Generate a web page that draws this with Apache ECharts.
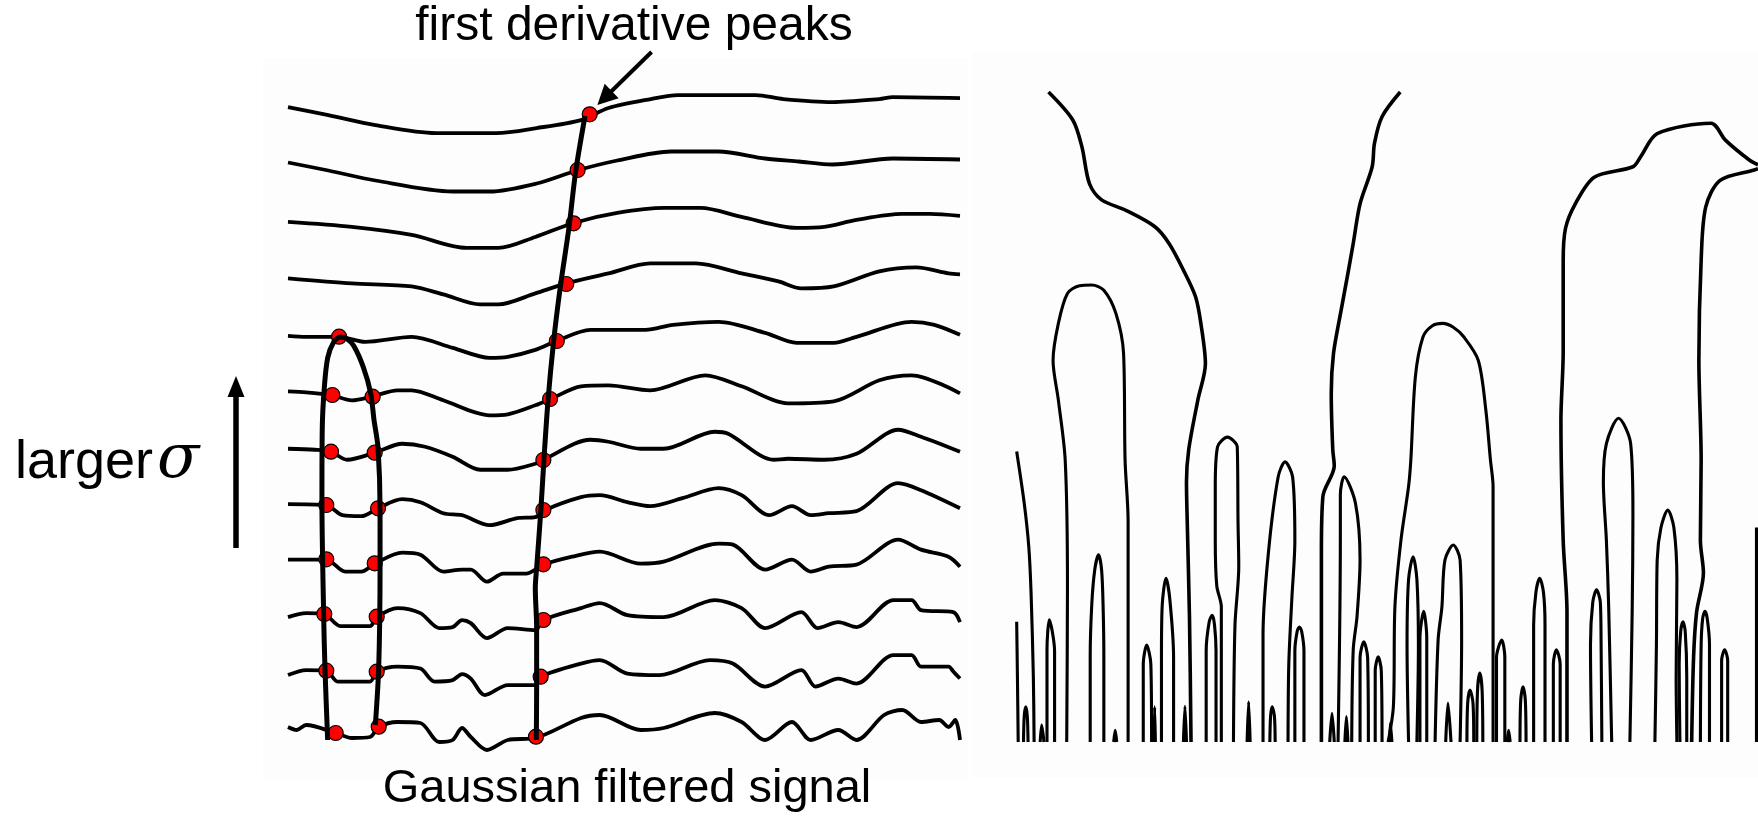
<!DOCTYPE html>
<html>
<head>
<meta charset="utf-8">
<title>scale space</title>
<script src="https://cdn.jsdelivr.net/npm/echarts/dist/echarts.min.js"></script>
<style>
  html, body { margin: 0; padding: 0; background: #fff; }
  #main { width: 1758px; height: 824px; }
</style>
</head>
<body>
<div id="main"></div>
<script>
// left panel: the same signal filtered with growing sigma (bottom = smallest)
// each point is [position 0-100, amplitude offset from its own baseline]
var rowGap = 56.45;
var sig0 = [[0,1],[1.3,-2],[2.7,3],[7.1,-5],[9.5,-10],[12.2,-9],[13.5,1],[16.3,6],[19.7,5],[22.5,-14],[24.5,-12],[25.9,0],[27.2,-9],[29.6,-22],[32.7,-12],[36.8,-10],[43.6,10],[46.4,13],[52.5,-2],[55.9,0],[63.5,15],[67.5,6],[71,-12],[75,6],[77.8,-12],[81.9,-2],[84.6,-12],[88.7,13],[91.4,18],[94.2,6],[96.9,8],[98.3,1],[99.3,8],[100,-12]];
var sig1 = [[0,-3.5],[2.7,1.5],[5.7,1],[7.4,-10],[12.2,-10],[13.2,0],[16.3,5],[19.7,3],[21.8,-10],[24.5,-8.5],[25.9,-2.5],[27.2,-7],[29.3,-23.5],[32.7,-13.5],[36.8,-13.5],[37.6,-5],[43.6,8],[46.4,11.5],[50.5,-2],[55.3,-3.5],[62.8,11.5],[66.2,8],[71,-15],[76.4,1.5],[78.5,-15],[81.9,-7],[84.6,-12],[90.1,16.5],[92.8,16.5],[94.2,5],[98.3,5],[99,0],[100,-7]];
var sig2 = [[0,-2],[2.7,2],[5.4,1],[7.8,-11],[12.2,-11],[13.2,-2],[16.3,7],[19.7,2],[22.5,-13],[24.5,-12],[25.9,-5],[27.2,-8],[29.6,-23],[32.7,-13],[36.8,-15],[38,-5],[43.6,7],[46.4,12],[50.5,0],[55.9,-2],[63.5,15],[67.5,7],[71,-13],[76.4,3],[78.8,-13],[81.9,-7],[84.6,-12],[90.1,15],[92.8,15],[94.2,5],[99,3],[100,-7]];
var sig3 = [[0,-1],[5.7,-1],[8.5,-13],[10.9,-13],[12.9,-5],[17,6],[19.7,4],[23.1,-13],[25.9,-11],[27.2,-11],[29.6,-23],[32,-15],[35.4,-15],[38,-6],[42.3,2],[46.4,7],[52.5,-5],[55.9,-3],[64.1,15],[66.2,14],[71,-11],[75,-1],[77.8,-13],[80.5,-8],[84.6,-6],[90.8,19],[94.2,9],[98.3,2],[100,-8]];
var sig4 = [[0,-2],[5.7,-3],[8.1,-13],[10.9,-14],[13.4,-6],[17,3],[19.7,0],[23.1,-11],[25.9,-13],[30,-23],[34.1,-16],[36.8,-15],[38.2,-8],[43.6,5],[46.4,7],[50.5,0],[53.9,-4],[58.7,4],[64.1,14],[67.5,7],[71.6,-13],[75,-4],[77.8,-13],[80.5,-11],[84.6,-9],[90.8,19],[94.2,12],[100,-6]];
var sig5 = [[0,-3],[4,-4],[6.4,-6],[8.8,-14],[12.9,-7],[17,2],[20.4,-1],[24.5,-11],[28.6,-24],[32.7,-24],[36.8,-18],[38,-14],[45,6],[47.7,4],[52.5,-3],[55.9,-3],[63.5,14],[65.5,12],[72.3,-14],[74.4,-13],[79.8,-14],[84.6,-8],[90.8,16],[94.2,9],[100,-6]];
var sig6 = [[0,-2],[2.7,-3],[6.5,-6],[9.5,-11],[12.6,-7],[16.3,-1],[18.4,-1],[23.1,-11],[30,-26],[32.7,-25],[36.8,-16],[39,-10],[43.6,3],[47.7,4],[53.9,-1],[62.1,14],[67.5,3],[74.4,-14],[81.2,-12],[88,9],[92.8,14],[100,-4]];
var sig7 = [[0,-3],[2.7,-4],[7.6,-4],[11.5,-9],[18.4,-4],[24.5,-15],[30,-25],[32.7,-24],[36.8,-17],[40,-8],[45,3],[53.2,3],[57.3,8],[64.1,11],[71,0],[75.7,-10],[81.2,-10],[84.6,-4],[92.8,11],[96.2,8],[100,-2]];
var sig8 = [[0,-2],[9.5,-7],[18.4,-10],[23.1,-18],[28.6,-28],[31.3,-28],[36.8,-17],[41.4,-7],[47.7,3],[53.9,13],[60.7,13],[67.5,3],[73,-5],[76.4,-12],[81.2,-10],[88,5],[93.5,9],[98.3,3],[100,2]];
var sig9 = [[0,-2],[9.5,-7],[18.4,-15],[26.6,-28],[31.3,-28],[36.8,-17],[42.5,-3],[49,7],[56,12],[61.4,12],[67.5,3],[75.7,-8],[79.8,-7],[84.6,0],[91.4,6],[95.5,6],[100,4]];
var sig10 = [[0,1],[6,-7],[13,-17],[24.5,-28],[30,-28],[37,-20],[43,-7],[49,3],[57,12],[64,12],[71,5],[76,2],[81,-1],[90,5],[100,4]];
var sig11 = [[0,0],[6,-8],[13,-18],[22,-26],[31,-26],[37,-21],[43.6,-13],[47.7,-1],[54,8],[58,12],[69.6,12],[73.7,8],[81,5],[88,8],[90,10],[100,9]];
var signalRows = [sig0, sig1, sig2, sig3, sig4, sig5, sig6, sig7, sig8, sig9, sig10, sig11];

// first derivative peaks, [position, amplitude]
var peaksLeft = [[7.1,-5],[5.7,57.3],[5.4,114],[5.7,168.7],[5.7,223],[6.4,276.3],[6.6,333],[7.6,391.3]];
var peaksMid = [[13.5,1.3],[13.2,56.3],[13.2,111.3],[12.9,164.7],[13.4,219.7],[12.9,275.3],[12.6,331.3]];
var peaksRight = [[36.9,-8.7],[37.6,51.3],[38,108],[38,163.7],[38,218],[38,268],[39,329],[40,387],[41.4,444],[42.5,504.7],[43.1,558],[44.9,613.7]];

// tracked peak paths
var trackLoop = [[5.9,-12],[5.5,60],[5.3,115],[5.05,228],[5.1,300],[5.4,340],[5.9,370],[6.8,386],[7.8,391],[8.8,389],[9.8,382],[11.2,361],[12.3,335],[12.8,308],[13.4,280],[13.7,218],[13.7,161],[13.5,61],[13.0,3]];
var trackMain = [[36.95,-12],[37,40],[37,100],[36.8,140],[37,160],[37.6,215],[38.1,270],[38.7,328],[39.5,385],[40.5,440],[41.8,500],[42.8,556],[44.2,612]];

// right panel: scale-space fingerprint, [position 0-100, scale 0-100]
var topBranches = [
  [[6.4,100],[9.6,95.7],[10.8,91.6],[11.8,85.9],[13.4,83.4],[16.6,81.8],[20.4,79.3],[22.3,76.7],[24.2,72.6],[25.8,68.5],[26.5,64.4],[27.1,58.2],[26.1,52.6],[24.9,45],[24.6,40],[24.7,34],[25,19],[25.2,0]],
  [[52.8,100],[50.4,96.2],[49.4,92.1],[49.1,88.5],[47.5,82.8],[46.6,76.7],[45.9,72.1],[45,66.4],[44,59.8],[43.7,53.6],[43.9,45],[44.1,42.5],[42.6,37.8],[42.4,29],[42.4,0]],
  [[74.8,0],[74.8,20],[74.3,31],[74,49.5],[74.3,60],[74.3,74],[74.6,79],[75.9,82.8],[78.4,86.9],[83.5,88.5],[84.5,90],[86.7,93.6],[93.8,95.2],[95.7,92.6],[98.9,89.5],[100,88.8]],
  [[91.25,0],[91.5,13],[91.9,20],[92.8,26],[92.4,31],[92.5,43.4],[92.2,58.8],[92.5,74.1],[93.1,82.3],[95,86.4],[99.5,88],[100,88.2]]
];
var stubs = [
  [[2.2,44.7],[3.2,36.7],[3.8,30],[4.1,22.9],[4.4,10],[4.5,0]],
  [[2.2,18.5],[2.3,10],[2.4,0]],
  [[99.8,33],[99.8,0]]
];
var tallArches = [
  [[8.8,0],[8.9,24],[8.6,43.4],[7.7,52.6],[7,58.7],[7.7,64.4],[8.9,69],[10.5,70.2],[12.1,70.3],[13.7,69.5],[15.3,65.9],[16.3,59.8],[16.5,43.4],[16.9,34],[16.9,0]],
  [[51.2,0],[51.9,5.5],[52.1,20.8],[52.9,31.1],[53.9,39.3],[54.2,43.4],[54.8,56.2],[55.8,62.3],[57,64],[58.4,64.4],[59.8,63.8],[61.2,62.3],[63.1,58.7],[64.1,51],[64.7,43.4],[65.05,39.3],[65.05,0]],
  [[29.2,0],[29.2,20.8],[28.6,24],[28.4,31],[28.4,39.3],[28.7,45.4],[30,46.9],[31.3,45.4],[31.4,34],[31.5,27],[31,18],[30.8,0]],
  [[34.7,0],[34.7,16.5],[35.4,29],[36.7,40.8],[37.6,43.1],[38.6,40.8],[38.9,31],[38.5,22],[38.1,12],[38,0]],
  [[80.7,0],[80.3,20.8],[80,31],[79.6,40],[80,45.9],[81.6,49.8],[83.2,45.9],[83.5,35],[83.4,20],[83.1,0]],
  [[86.4,0],[86.6,15],[86.7,28],[87.2,33],[88.1,35.7],[88.9,33],[89.3,25],[89.2,10],[89.3,0]],
  [[44.6,0],[44.9,31],[44.9,38],[45.4,40.8],[46.9,36.7],[47.5,28],[47.1,19.3],[46.6,14.2],[46.4,0]]
];
var midArches = [
  [[11.9,0],[11.9,13],[12.1,21],[12.5,26.5],[13,28.8],[13.4,26.5],[13.6,21],[13.7,13],[13.7,0]],
  [[21.3,0],[21.3,13],[21.4,21],[21.9,25.2],[22.4,22],[22.9,13],[22.9,0]],
  [[6.2,0],[6.2,14],[6.3,17],[6.5,18.8],[6.9,17],[7.2,14],[7.2,0]],
  [[18.9,0],[18.9,12],[19.35,14.9],[19.9,12],[20,0]],
  [[27.2,0],[27.2,14],[27.6,18.5],[28,19.5],[28.3,18],[28.5,14],[28.5,0]],
  [[38.9,0],[38.9,14],[39.2,17],[39.5,17.7],[39.8,17],[40.1,14],[40.1,0]],
  [[47.5,0],[47.5,13],[48,15.4],[48.5,13],[48.6,0]],
  [[49.5,0],[49.5,11],[49.9,13.1],[50.3,11],[50.4,0]],
  [[53.9,0],[53.7,15],[53.9,25],[54.5,28.5],[55,25],[55.2,15],[55,0]],
  [[55.4,0],[55.4,16],[55.9,20.1],[56.3,16],[56.3,0]],
  [[57.4,0],[57.8,15.7],[58.3,20.8],[58.7,28],[59.8,30.3],[60.7,28],[60.9,15.7],[60.7,0]],
  [[65.5,0],[65.5,13],[66.2,15.7],[66.6,13],[66.6,0]],
  [[70.4,0],[70.4,18],[70.7,23],[71.2,25.2],[71.7,23],[71.9,18],[71.9,0]],
  [[73,0],[73,12],[73.4,14.2],[73.9,12],[73.9,0]],
  [[78.05,0],[77.9,15],[78.2,21.5],[78.7,23.4],[79.2,21.5],[79.3,15],[79.4,0]],
  [[89.7,0],[89.6,12],[89.8,17],[90.1,18.5],[90.4,17],[90.6,10],[90.6,0]],
  [[92.4,0],[92.5,15],[92.7,19],[93,20.1],[93.3,19],[93.6,15],[93.6,0]],
  [[95.2,0],[95.2,12.5],[95.6,14.2],[96,12.5],[96,0]]
];
var smallArches = [
  [[3.1,0],[3.2,4],[3.4,5.4],[3.6,4],[3.7,0]],
  [[5.3,0],[5.5,2.6],[5.8,0]],
  [[15,0],[15.2,1.8],[15.4,0]],
  [[20.3,0],[20.4,5.4],[20.5,0]],
  [[24.2,0],[24.4,5.5],[24.6,0]],
  [[32.6,0],[32.8,6.2],[33,0]],
  [[35.6,0],[35.7,4],[35.9,5.4],[36.2,4],[36.3,0]],
  [[43.5,0],[43.8,4.4],[44.1,0]],
  [[45.5,0],[45.7,3.9],[45.9,0]],
  [[51.4,0],[51.5,2.9],[51.7,0]],
  [[58.8,0],[59.1,6],[59.5,0]],
  [[61.6,0],[61.7,6],[62,8],[62.4,6],[62.5,0]],
  [[62.9,0],[63,8],[63.3,10.6],[63.6,8],[63.7,0]],
  [[66.9,0],[67.1,1.8],[67.3,0]],
  [[68.6,0],[68.7,6.5],[69,8.5],[69.3,6.5],[69.4,0]]
];

var chartDom = document.getElementById("main");
var myChart = echarts.init(chartDom);
var option;

var series = [];
signalRows.forEach(function (row, k) {
  series.push({
    type: "line",
    xAxisIndex: 0,
    yAxisIndex: 0,
    data: row.map(function (p) { return [p[0], p[1] + k * rowGap]; }),
    symbol: "none",
    smooth: 0.3,
    clip: false,
    silent: true,
    z: 2,
    lineStyle: { color: "#000", width: 3.8 },
  });
});

series.push({
  type: "scatter",
  xAxisIndex: 0,
  yAxisIndex: 0,
  data: peaksLeft.concat(peaksMid, peaksRight),
  symbol: "circle",
  symbolSize: 15,
  clip: false,
  silent: true,
  z: 3,
  itemStyle: { color: "#ff0000", borderColor: "#000", borderWidth: 1.2, opacity: 1 },
  markLine: {
    silent: true,
    symbol: ["none", "triangle"],
    symbolSize: 20,
    label: { show: false },
    lineStyle: { type: "solid", color: "#000", width: 4 },
    data: [[{ coord: [54.1, 676] }, { coord: [47.1, 630] }]],
  },
});

[trackLoop, trackMain].forEach(function (path) {
  series.push({
    type: "line",
    xAxisIndex: 0,
    yAxisIndex: 0,
    data: path,
    symbol: "none",
    smooth: 0.3,
    clip: false,
    silent: true,
    z: 4,
    lineStyle: { color: "#000", width: 5 },
  });
});

// fingerprint curves
function ridge(curve, width) {
  return {
    type: "line",
    xAxisIndex: 1,
    yAxisIndex: 1,
    data: curve,
    symbol: "none",
    smooth: 0.3,
    clip: false,
    silent: true,
    z: 2,
    lineStyle: { color: "#000", width: width },
  };
}
topBranches.forEach(function (c) { series.push(ridge(c, 3.6)); });
stubs.concat(tallArches, midArches, smallArches).forEach(function (c) { series.push(ridge(c, 3.1)); });

option = {
  animation: false,
  backgroundColor: "#ffffff",
  grid: [
    { left: 288, top: 28, width: 672, height: 780 },
    { left: 1000, top: 92, width: 758, height: 650 },
  ],
  xAxis: [
    { type: "value", gridIndex: 0, min: 0, max: 100, show: false },
    { type: "value", gridIndex: 1, min: 0, max: 100, show: false },
  ],
  yAxis: [
    { type: "value", gridIndex: 0, min: -80, max: 700, show: false },
    { type: "value", gridIndex: 1, min: 0, max: 100, show: false },
  ],
  graphic: [
    { type: "rect", z: 0, shape: { x: 263, y: 58, width: 705, height: 722 }, style: { fill: "#fdfdfd" }, silent: true },
    { type: "rect", z: 0, shape: { x: 972, y: 52, width: 786, height: 726 }, style: { fill: "#fdfdfd" }, silent: true },
    {
      type: "text", z: 10, silent: true,
      style: { text: "first derivative peaks", x: 634, y: 27, fill: "#000",
        font: 'normal 48px "Liberation Sans", Arial, sans-serif',
        textAlign: "center", textVerticalAlign: "middle", align: "center", verticalAlign: "middle" },
    },
    {
      type: "text", z: 10, silent: true,
      style: { text: "Gaussian filtered signal", x: 627, y: 789, fill: "#000",
        font: 'normal 47px "Liberation Sans", Arial, sans-serif',
        textAlign: "center", textVerticalAlign: "middle", align: "center", verticalAlign: "middle" },
    },
    {
      type: "text", z: 10, silent: true,
      style: { text: "larger", x: 15, y: 463, fill: "#000",
        font: 'normal 54px "Liberation Sans", Arial, sans-serif',
        textAlign: "left", textVerticalAlign: "middle", align: "left", verticalAlign: "middle" },
    },
    {
      type: "text", z: 10, silent: true,
      style: { text: "σ", x: 157, y: 461, fill: "#000",
        font: 'italic 62px "DejaVu Serif", "Liberation Serif", serif',
        textAlign: "left", textVerticalAlign: "middle", align: "left", verticalAlign: "middle" },
    },
    { type: "line", z: 10, silent: true, shape: { x1: 236, y1: 548, x2: 236, y2: 394 }, style: { stroke: "#000", lineWidth: 5.5 } },
    { type: "polygon", z: 10, silent: true, shape: { points: [[236, 376], [227.5, 397], [244.5, 397]] }, style: { fill: "#000" } },
  ],
  series: series,
};

option && myChart.setOption(option);
</script>
</body>
</html>
